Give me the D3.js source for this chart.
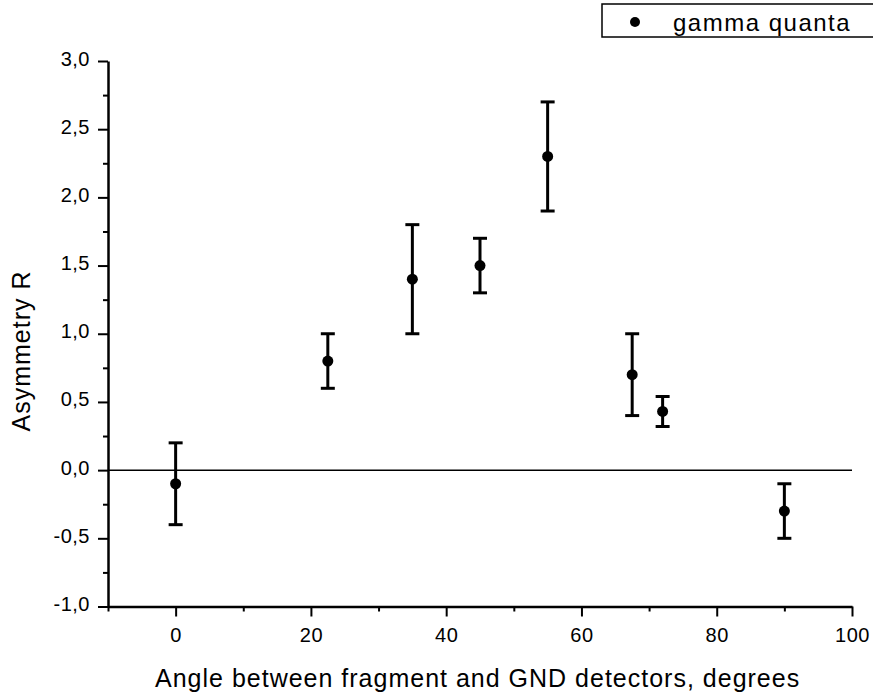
<!DOCTYPE html>
<html>
<head>
<meta charset="utf-8">
<script src="https://cdn.jsdelivr.net/npm/d3@7"></script>
<style>
  body { margin: 0; background: #fff; }
  svg { font-family: Arial, "Liberation Sans", sans-serif; }
</style>
</head>
<body>
<svg width="873" height="696"></svg>
<script>
// angle between fragment and GND detectors, degrees
var angles = [0, 22.5, 35, 45, 55, 67.5, 72, 90];
// asymmetry R and its error
var asym = [-0.1, 0.8, 1.4, 1.5, 2.3, 0.7, 0.43, -0.3];
var errs = [0.3, 0.2, 0.4, 0.2, 0.4, 0.3, 0.11, 0.2];

var xMajor = [0, 20, 40, 60, 80, 100];
var xMinor = [-10, 10, 30, 50, 70, 90];
var yMajor = [-1, -0.5, 0, 0.5, 1, 1.5, 2, 2.5, 3];
var yMinor = [-0.75, -0.25, 0.25, 0.75, 1.25, 1.75, 2.25, 2.75];

var svg = d3.select('svg');

var x = d3.scaleLinear().domain([-10, 100]).range([108, 852]);
var y = d3.scaleLinear().domain([-1, 3]).range([606.5, 61]);

var loc = d3.formatLocale({decimal: ',', thousands: '.', grouping: [3], currency: ['', ''], minus: '-'});
var fmt = loc.format('.1f');

// minor ticks first
svg.append('g')
  .attr('transform', 'translate(0,606.5)')
  .call(d3.axisBottom(x).tickValues(xMinor).tickSize(5).tickFormat(''))
  .call(function(g) { g.select('.domain').remove(); });

svg.append('g')
  .attr('transform', 'translate(108,0)')
  .call(d3.axisLeft(y).tickValues(yMinor).tickSize(5).tickFormat(''))
  .call(function(g) { g.select('.domain').remove(); });

var xAxis = svg.append('g')
  .attr('transform', 'translate(0,606.5)')
  .call(d3.axisBottom(x).tickValues(xMajor).tickSize(10).tickSizeOuter(0).tickPadding(11));

var yAxis = svg.append('g')
  .attr('transform', 'translate(108,0)')
  .call(d3.axisLeft(y).tickValues(yMajor).tickSize(10).tickSizeOuter(0).tickPadding(8).tickFormat(fmt));

svg.selectAll('.tick line').attr('stroke', '#000').attr('stroke-width', 2);
svg.selectAll('.domain').attr('stroke', '#000').attr('stroke-width', 2.5);
svg.selectAll('.tick text')
  .attr('fill', '#000')
  .style('font-family', 'Arial, "Liberation Sans", sans-serif')
  .style('font-size', '20px')
  .style('letter-spacing', '0.5px');
xAxis.selectAll('.tick text').attr('dy', 0).attr('y', 35);
yAxis.selectAll('.tick text').attr('dy', 4);

// zero line
svg.append('line')
  .attr('x1', x(-10)).attr('x2', x(100))
  .attr('y1', y(0)).attr('y2', y(0))
  .attr('stroke', '#000').attr('stroke-width', 1.5);

// error bars
var pts = svg.append('g').selectAll('g')
  .data(angles)
  .enter()
  .append('g');

pts.append('line')
  .attr('x1', function(d) { return x(d); })
  .attr('x2', function(d) { return x(d); })
  .attr('y1', function(d, i) { return y(asym[i] + errs[i]); })
  .attr('y2', function(d, i) { return y(asym[i] - errs[i]); })
  .attr('stroke', '#000').attr('stroke-width', 3);

pts.append('line')
  .attr('x1', function(d) { return x(d) - 7; })
  .attr('x2', function(d) { return x(d) + 7; })
  .attr('y1', function(d, i) { return y(asym[i] + errs[i]); })
  .attr('y2', function(d, i) { return y(asym[i] + errs[i]); })
  .attr('stroke', '#000').attr('stroke-width', 3);

pts.append('line')
  .attr('x1', function(d) { return x(d) - 7; })
  .attr('x2', function(d) { return x(d) + 7; })
  .attr('y1', function(d, i) { return y(asym[i] - errs[i]); })
  .attr('y2', function(d, i) { return y(asym[i] - errs[i]); })
  .attr('stroke', '#000').attr('stroke-width', 3);

pts.append('circle')
  .attr('cx', function(d) { return x(d); })
  .attr('cy', function(d, i) { return y(asym[i]); })
  .attr('r', 5.5)
  .attr('fill', '#000');

// axis titles
svg.append('text')
  .attr('x', 155).attr('y', 687)
  .style('font-size', '25px').style('letter-spacing', '1px')
  .text('Angle between fragment and GND detectors, degrees');

svg.append('text')
  .attr('transform', 'translate(30,351) rotate(-90)')
  .attr('text-anchor', 'middle')
  .style('font-size', '25px').style('letter-spacing', '1px')
  .text('Asymmetry R');

// legend
var leg = svg.append('g');
leg.append('rect')
  .attr('x', 602).attr('y', 4).attr('width', 320).attr('height', 33)
  .attr('fill', 'none').attr('stroke', '#000').attr('stroke-width', 1.5);
leg.append('circle')
  .attr('cx', 635).attr('cy', 22).attr('r', 5).attr('fill', '#000');
leg.append('text')
  .attr('x', 673).attr('y', 31)
  .style('font-size', '24px').style('letter-spacing', '1.5px')
  .text('gamma quanta');
</script>
</body>
</html>
